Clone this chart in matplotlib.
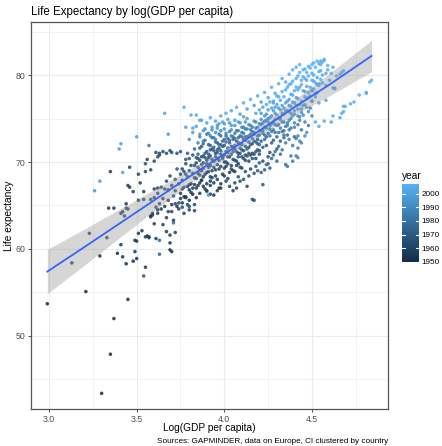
import numpy as np
import matplotlib
matplotlib.use("Agg")
import matplotlib.pyplot as plt
from matplotlib.colors import LinearSegmentedColormap, Normalize
from matplotlib.cm import ScalarMappable

plt.rcParams['font.family'] = ['Liberation Sans', 'DejaVu Sans']

# points: (log10 GDP per capita, life expectancy, year)
low_tail = [
    (2.99, 53.7, 1950), (3.13, 58.4, 1952), (3.21, 55.1, 1950), (3.23, 61.8, 1955),
    (3.29, 59.2, 1953), (3.33, 61.3, 1956), (3.37, 52.0, 1950), (3.35, 47.9, 1951),
    (3.30, 43.4, 1950), (3.45, 54.2, 1951), (3.54, 56.9, 1968), (3.55, 57.9, 1955),
    (3.39, 59.5, 1953), (3.42, 59.1, 1954), (3.41, 60.5, 1955), (3.44, 58.3, 1952),
    (3.48, 58.6, 1953), (3.50, 58.9, 1954), (3.49, 59.7, 1956), (3.63, 59.4, 1972),
    (3.49, 61.0, 1955), (3.50, 60.9, 1956), (3.51, 61.8, 1957), (3.53, 62.1, 1958),
    (3.55, 61.4, 1956), (3.56, 61.5, 1957), (3.57, 61.3, 1955), (3.57, 61.4, 1958),
    (3.61, 61.2, 1957), (3.63, 61.0, 1975), (3.60, 62.9, 1958), (3.65, 62.8, 1959),
    (3.58, 63.7, 1959), (3.59, 63.9, 1960), (3.62, 64.1, 1960), (3.67, 62.0, 1956),
    (3.69, 61.6, 1957), (3.69, 60.7, 1955), (3.69, 59.9, 1954), (3.70, 59.7, 1953),
    (3.71, 63.0, 1978), (3.72, 61.9, 1958), (3.71, 63.3, 1959), (3.67, 63.6, 1959),
    (3.68, 64.3, 1961), (3.70, 64.3, 1960), (3.72, 65.2, 1962), (3.74, 65.3, 1961),
    (3.74, 64.6, 1960), (3.76, 64.8, 1961), (3.77, 64.1, 1959), (3.79, 65.1, 1962),
    (3.80, 64.5, 1960), (3.80, 64.9, 1963), (3.83, 64.4, 1961), (3.83, 65.1, 1962),
]

left_mid = [
    (3.34, 64.7, 1955), (3.37, 64.7, 1956), (3.41, 64.1, 1954), (3.43, 63.8, 1955),
    (3.44, 65.2, 1957), (3.45, 64.6, 1956), (3.44, 64.7, 1958), (3.42, 64.3, 1953),
    (3.51, 65.6, 1957), (3.54, 65.7, 1958), (3.58, 65.7, 1959), (3.58, 63.8, 1956),
    (3.59, 64.1, 1957), (3.62, 64.5, 1958), (3.35, 68.9, 1960), (3.46, 69.4, 1961),
    (3.45, 67.3, 1959), (3.46, 67.1, 1958), (3.48, 66.6, 1957), (3.51, 68.6, 1960),
    (3.52, 67.6, 1959), (3.54, 66.6, 1958), (3.55, 68.9, 1961), (3.58, 69.1, 1962),
    (3.55, 69.8, 1963), (3.56, 70.3, 1962), (3.60, 70.1, 1963), (3.62, 70.6, 1964),
    (3.63, 70.8, 1963), (3.60, 66.9, 1960), (3.62, 67.0, 1961), (3.57, 71.9, 1980),
    (3.61, 71.1, 1962), (3.63, 71.0, 1964), (3.65, 71.2, 1963), (3.67, 71.0, 1965),
    (3.69, 71.3, 1964), (3.70, 71.1, 1966), (3.73, 71.0, 1965), (3.75, 71.2, 1967),
]

left_light = [
    (3.26, 66.7, 1995), (3.29, 67.8, 1998), (3.42, 68.8, 1999), (3.40, 71.5, 1997),
    (3.41, 72.1, 2000), (3.50, 72.9, 1999), (3.66, 75.6, 2002), (3.68, 73.2, 1998),
    (3.77, 76.3, 2004), (3.78, 74.0, 2000), (3.82, 73.9, 2001), (3.81, 75.4, 2003),
    (3.84, 75.4, 2004), (3.87, 74.8, 2002), (3.86, 73.2, 1997), (3.97, 74.4, 2000),
]

right_tail = [
    (4.52, 74.6, 2003), (4.54, 74.1, 2002), (4.57, 74.7, 2004), (4.61, 74.6, 2003),
    (4.62, 75.3, 2005), (4.66, 75.1, 2004), (4.67, 75.6, 2005), (4.68, 75.8, 2006),
    (4.68, 76.4, 2005), (4.69, 76.4, 2006), (4.72, 76.7, 2006), (4.74, 76.9, 2007),
    (4.77, 77.7, 2006), (4.81, 77.9, 2007), (4.81, 78.0, 2006), (4.83, 79.2, 2007),
    (4.84, 79.4, 2007), (4.62, 78.5, 2002), (4.63, 78.4, 2003), (4.66, 80.1, 2005),
    (4.67, 80.3, 2006), (4.68, 80.5, 2007), (4.55, 81.6, 2006), (4.57, 81.8, 2007),
    (4.51, 79.3, 2003), (4.53, 78.9, 2002), (4.50, 78.2, 2000), (4.49, 76.2, 1985),
    (4.50, 77.0, 1999), (4.54, 76.8, 2001), (4.58, 77.1, 2002),
]

lower_scatter = [
    (4.16, 65.7, 1962), (4.17, 65.6, 1963), (4.22, 67.4, 1968), (4.09, 67.8, 1963),
    (4.24, 69.7, 1975), (4.26, 69.3, 1972), (4.35, 69.7, 1980), (4.36, 69.5, 1982),
    (4.38, 70.7, 1984), (4.41, 70.7, 1986), (4.42, 70.5, 1988), (4.39, 70.1, 1983),
    (4.42, 71.6, 1987), (4.43, 72.4, 1990), (4.47, 73.4, 1992), (4.42, 73.0, 1989),
    (4.30, 70.1, 1978), (4.32, 70.9, 1980), (4.19, 69.0, 1970), (4.21, 68.8, 1971),
    (4.05, 66.7, 1960), (4.07, 67.0, 1961), (3.96, 66.7, 1958), (3.98, 67.0, 1959),
    (3.92, 66.3, 1957), (3.90, 66.6, 1994), (3.91, 66.2, 1996), (3.87, 67.9, 1960),
    (3.92, 67.3, 1958), (4.13, 67.2, 1965), (4.28, 70.8, 1976),
    (4.01, 67.8, 1962), (4.03, 67.2, 1961), (4.06, 67.6, 1963), (4.08, 68.3, 1965),
    (4.11, 68.0, 1964), (4.12, 68.9, 1966), (4.14, 68.4, 1965), (4.17, 68.7, 1968),
    (4.18, 69.5, 1970), (4.20, 69.9, 1972), (4.23, 69.1, 1970), (4.25, 69.8, 1973),
    (4.27, 70.4, 1975), (4.29, 71.2, 1978), (4.31, 71.8, 1980), (4.33, 71.4, 1981),
    (4.35, 72.2, 1983), (4.37, 72.6, 1985), (4.39, 71.9, 1984), (4.41, 72.7, 1987),
    (4.44, 72.2, 1988), (4.46, 73.0, 1990),
]

band_left_dark = [
    (3.60, 65.9, 1959), (3.61, 64.8, 1957), (3.62, 66.4, 1960), (3.63, 65.2, 1958),
    (3.64, 67.1, 1962), (3.64, 64.6, 1956), (3.65, 65.8, 1959), (3.66, 66.9, 1961),
    (3.66, 64.9, 1957), (3.67, 67.8, 1963), (3.68, 65.6, 1958), (3.68, 66.8, 1960),
    (3.69, 68.4, 1964), (3.70, 65.1, 1956), (3.70, 67.3, 1961), (3.71, 66.1, 1959),
    (3.72, 68.0, 1963), (3.72, 66.7, 1960), (3.73, 64.9, 1955), (3.73, 69.2, 1965),
    (3.74, 67.5, 1961), (3.75, 68.6, 1963), (3.75, 65.8, 1957), (3.76, 66.9, 1959),
    (3.77, 68.9, 1964), (3.77, 67.1, 1960), (3.78, 69.8, 1966), (3.78, 65.9, 1956),
    (3.79, 68.3, 1962), (3.80, 67.4, 1959), (3.80, 70.4, 1967), (3.81, 66.5, 1956),
    (3.82, 68.7, 1962), (3.83, 69.6, 1964), (3.83, 67.4, 1958), (3.84, 70.5, 1967),
]

band_core = [
    (3.75, 66.4, 1956), (3.76, 67.9, 1960), (3.76, 69.2, 1963), (3.77, 66.0, 1954),
    (3.78, 68.6, 1961), (3.78, 70.3, 1966), (3.79, 67.2, 1958), (3.79, 71.0, 1972),
    (3.80, 69.0, 1962), (3.80, 66.8, 1955), (3.81, 67.5, 1957), (3.81, 69.6, 1963),
    (3.82, 70.8, 1967), (3.82, 66.3, 1953), (3.83, 68.2, 1959), (3.83, 71.5, 1975),
    (3.84, 69.9, 1964), (3.84, 67.0, 1956), (3.85, 68.7, 1960), (3.85, 70.4, 1966),
    (3.85, 72.2, 1988), (3.86, 69.1, 1961), (3.86, 67.6, 1957), (3.87, 70.6, 1965),
    (3.87, 71.8, 1970), (3.88, 68.3, 1958), (3.88, 69.9, 1963), (3.89, 72.5, 1980),
    (3.89, 66.9, 1955), (3.90, 70.2, 1964), (3.90, 71.2, 1968), (3.90, 68.8, 1960),
    (3.91, 69.4, 1961), (3.91, 72.0, 1971), (3.92, 70.7, 1965), (3.92, 67.8, 1956),
    (3.93, 71.5, 1968), (3.93, 69.0, 1960), (3.94, 72.8, 1984), (3.94, 70.1, 1963),
    (3.95, 68.4, 1958), (3.95, 71.0, 1966), (3.95, 73.4, 1992), (3.92, 73.0, 1990),
    (3.94, 66.2, 1953), (3.96, 70.4, 1963), (3.96, 72.2, 1972), (3.97, 69.2, 1960),
    (3.97, 71.6, 1968), (3.98, 70.9, 1965), (3.98, 73.0, 1979), (3.99, 68.6, 1957),
    (3.99, 72.4, 1974), (4.00, 70.0, 1962), (4.00, 71.9, 1970), (4.00, 73.8, 1995),
    (3.97, 67.0, 1955), (4.01, 71.2, 1966), (4.01, 69.5, 1961), (4.02, 72.7, 1976),
    (4.02, 70.6, 1964), (4.03, 73.5, 1985), (4.03, 68.8, 1958), (4.04, 71.8, 1969),
    (4.04, 74.2, 1996), (4.05, 70.3, 1963), (4.05, 72.9, 1977), (4.05, 69.0, 1959),
    (4.06, 71.5, 1967), (4.06, 73.3, 1982), (4.07, 70.1, 1962), (4.07, 72.4, 1973),
    (4.08, 74.6, 1997), (4.08, 71.0, 1965), (4.09, 73.0, 1978), (4.09, 69.4, 1960),
    (4.10, 72.0, 1970), (4.10, 74.0, 1988), (4.10, 70.6, 1964), (4.11, 72.6, 1972),
    (4.11, 71.3, 1967), (4.12, 73.8, 1984), (4.12, 70.2, 1963), (4.13, 72.9, 1975),
    (4.13, 75.0, 1999), (4.14, 71.7, 1969), (4.14, 74.3, 1990), (4.15, 73.2, 1978),
    (4.15, 70.8, 1966), (4.15, 69.2, 1961), (4.16, 73.5, 1980), (4.16, 72.1, 1971),
    (4.17, 74.7, 1992), (4.17, 70.9, 1965), (4.18, 73.9, 1985), (4.18, 75.6, 2001),
    (4.19, 72.6, 1974), (4.19, 71.4, 1968), (4.20, 74.4, 1989), (4.20, 73.1, 1977),
    (4.20, 76.0, 2002), (4.21, 72.4, 1973), (4.21, 74.9, 1993), (4.22, 73.6, 1981),
    (4.22, 71.7, 1970), (4.23, 75.3, 1996), (4.23, 74.0, 1986), (4.24, 72.9, 1976),
    (4.24, 76.6, 2003), (4.25, 74.6, 1990), (4.25, 73.3, 1979), (4.25, 70.6, 1966),
    (4.26, 75.1, 1994), (4.26, 73.8, 1983), (4.27, 76.2, 2000), (4.27, 72.2, 1972),
    (4.28, 74.6, 1988), (4.28, 77.0, 2004), (4.29, 73.4, 1980), (4.29, 75.6, 1997),
    (4.30, 74.2, 1986), (4.30, 76.6, 2001), (4.30, 71.5, 1969), (4.31, 75.0, 1991),
    (4.31, 77.5, 2003), (4.32, 73.9, 1984), (4.32, 76.0, 1996), (4.33, 74.6, 1987),
    (4.33, 78.1, 2005), (4.34, 75.5, 1993), (4.34, 72.8, 1977), (4.35, 76.8, 1999),
    (4.35, 74.1, 1985), (4.36, 75.9, 1995), (4.36, 78.6, 2005), (4.37, 77.2, 2000),
    (4.37, 74.8, 1989), (4.38, 76.4, 1997), (4.38, 79.0, 2006), (4.39, 75.3, 1992),
    (4.39, 77.7, 2002), (4.40, 76.8, 1998), (4.40, 74.0, 1986), (4.41, 77.4, 2001),
    (4.41, 79.6, 2006), (4.42, 76.1, 1996), (4.42, 78.3, 2003), (4.43, 75.2, 1991),
    (4.43, 80.3, 2007), (4.44, 77.0, 1999), (4.44, 78.9, 2004), (4.45, 76.5, 1997),
    (4.45, 79.8, 2005), (4.46, 78.1, 2002), (4.46, 80.7, 2006), (4.47, 77.3, 1999),
    (4.47, 79.4, 2004), (4.48, 75.8, 1994), (4.48, 81.0, 2007), (4.49, 78.6, 2003),
    (4.50, 80.2, 2005), (4.50, 77.0, 1998), (4.51, 81.4, 2007), (4.52, 79.1, 2004),
    (4.53, 78.0, 2001), (4.53, 81.6, 2006), (4.54, 80.4, 2005), (4.55, 79.5, 2003),
    (4.55, 81.2, 2007), (4.56, 80.0, 2004), (4.57, 81.7, 2007), (4.58, 78.8, 2002),
    (4.59, 80.6, 2005), (4.60, 79.4, 2003), (4.62, 80.9, 2006), (4.63, 78.5, 2001),
    (4.64, 79.9, 2004),
]

band_dense_left = [
    (3.84, 68.1, 1959), (3.85, 69.4, 1963), (3.85, 67.3, 1956), (3.86, 70.2, 1966),
    (3.86, 68.5, 1960), (3.87, 69.0, 1962), (3.87, 67.9, 1958), (3.88, 70.7, 1968),
    (3.88, 69.3, 1961), (3.89, 68.6, 1959), (3.89, 71.0, 1970), (3.90, 69.8, 1964),
    (3.90, 67.5, 1957), (3.91, 70.5, 1966), (3.91, 68.9, 1961), (3.92, 69.6, 1963),
    (3.92, 71.4, 1972), (3.93, 70.3, 1965), (3.93, 68.2, 1959), (3.94, 69.4, 1962),
    (3.94, 71.7, 1973), (3.95, 70.6, 1967), (3.95, 69.1, 1961), (3.96, 71.4, 1970),
    (3.96, 69.7, 1963), (3.97, 70.2, 1964), (3.97, 72.0, 1975), (3.98, 69.5, 1962),
    (3.98, 71.3, 1969), (3.99, 70.4, 1966), (3.99, 71.8, 1972), (4.00, 69.3, 1961),
    (4.00, 70.8, 1967), (4.01, 72.3, 1976), (4.01, 70.0, 1964), (4.02, 71.1, 1968),
    (4.02, 69.8, 1963), (4.03, 70.6, 1966), (4.03, 72.5, 1977), (4.04, 70.9, 1967),
    (4.04, 69.2, 1960), (4.05, 71.7, 1971), (4.05, 72.6, 1979), (4.06, 70.2, 1964),
    (4.06, 71.9, 1973), (4.07, 71.2, 1969), (4.07, 69.6, 1962), (4.08, 72.8, 1978),
    (4.08, 70.6, 1966), (4.09, 72.1, 1974), (4.09, 71.0, 1968), (4.10, 71.4, 1970),
    (4.10, 72.9, 1980), (4.11, 70.4, 1965), (4.11, 73.3, 1982), (4.12, 71.8, 1972),
    (4.12, 72.9, 1978), (4.13, 70.7, 1966), (4.13, 73.8, 1985), (4.14, 72.3, 1975),
    (4.14, 71.0, 1968), (4.15, 73.7, 1983), (4.15, 72.0, 1973), (4.16, 70.4, 1964),
    (4.16, 74.0, 1986), (4.17, 72.4, 1976), (4.17, 73.2, 1980), (4.18, 71.2, 1969),
    (4.18, 74.6, 1990), (4.19, 73.0, 1979), (4.19, 72.1, 1973), (4.20, 73.6, 1983),
    (4.20, 70.9, 1967),
    (3.86, 72.9, 1987), (3.88, 72.4, 1984), (3.89, 73.8, 1993), (3.91, 73.3, 1989),
    (3.93, 73.7, 1991), (3.95, 72.6, 1986), (3.96, 74.2, 1995), (3.98, 73.6, 1990),
    (4.00, 74.4, 1997), (4.01, 73.3, 1988), (4.03, 74.5, 1996), (4.04, 73.7, 1991),
    (4.06, 74.2, 1994), (4.08, 73.6, 1989), (4.09, 74.5, 1996), (4.11, 75.2, 1999),
    (4.12, 74.6, 1995),
]

band_dense_right = [
    (4.21, 74.3, 1988), (4.21, 75.6, 1997), (4.22, 73.3, 1982), (4.22, 76.3, 2001),
    (4.23, 74.7, 1990), (4.23, 72.6, 1977), (4.24, 75.5, 1996), (4.24, 73.9, 1985),
    (4.25, 76.0, 1999), (4.25, 75.0, 1993), (4.26, 74.2, 1987), (4.26, 76.9, 2003),
    (4.27, 75.3, 1994), (4.27, 73.5, 1983), (4.28, 75.9, 1998), (4.28, 76.8, 2002),
    (4.29, 74.3, 1986), (4.29, 76.3, 2000), (4.30, 75.4, 1995), (4.30, 77.6, 2004),
    (4.31, 76.2, 1998), (4.31, 73.4, 1981), (4.32, 77.1, 2002), (4.32, 74.9, 1990),
    (4.33, 76.5, 1999), (4.33, 75.6, 1994), (4.34, 77.5, 2003), (4.34, 74.6, 1988),
    (4.35, 75.9, 1996), (4.35, 78.3, 2005), (4.36, 77.0, 2000), (4.36, 74.2, 1986),
    (4.37, 76.5, 1998), (4.37, 78.9, 2006), (4.38, 77.8, 2002), (4.38, 75.6, 1993),
    (4.39, 76.9, 1999), (4.39, 79.3, 2006), (4.40, 78.2, 2003), (4.40, 75.9, 1995),
    (4.41, 76.5, 1997), (4.41, 78.6, 2004), (4.42, 77.3, 2000), (4.42, 79.9, 2006),
    (4.43, 76.6, 1998), (4.43, 78.6, 2003), (4.44, 79.4, 2005), (4.44, 75.7, 1994),
    (4.45, 78.2, 2002), (4.45, 80.6, 2007), (4.46, 77.5, 2000), (4.46, 79.6, 2005),
    (4.47, 78.7, 2003), (4.47, 80.3, 2006), (4.48, 78.0, 2001), (4.48, 79.9, 2005),
    (4.49, 80.8, 2007), (4.49, 77.6, 1999), (4.50, 79.4, 2004), (4.50, 81.2, 2007),
    (4.51, 78.4, 2002), (4.51, 80.0, 2005), (4.52, 80.9, 2006), (4.52, 77.9, 2000),
    (4.53, 79.7, 2004), (4.54, 81.3, 2007), (4.54, 79.0, 2003), (4.55, 80.5, 2005),
    (4.56, 81.5, 2007), (4.56, 79.1, 2003), (4.58, 80.2, 2005), (4.59, 81.1, 2006),
    (4.61, 80.2, 2005), (4.47, 76.3, 1996), (4.45, 75.4, 1992), (4.43, 74.8, 1989),
    (4.40, 74.5, 1988), (4.37, 73.7, 1984), (4.34, 73.1, 1980),
]

band_upper = [
    (3.80, 72.6, 1993), (3.82, 73.4, 1997), (3.84, 74.1, 1999), (3.86, 74.8, 2002),
    (3.88, 73.6, 1995), (3.90, 74.5, 2000), (3.92, 75.1, 2003), (3.93, 74.0, 1998),
    (3.95, 74.7, 2001), (3.96, 73.9, 1996), (3.98, 75.3, 2004), (3.99, 74.6, 1999),
    (4.01, 75.6, 2005), (4.02, 74.9, 2000), (4.04, 75.9, 2003), (4.06, 74.8, 1997),
    (4.07, 76.3, 2005), (4.09, 75.5, 1999), (4.11, 76.8, 2004), (4.13, 76.1, 2001),
    (4.15, 77.2, 2006), (4.17, 76.5, 1998), (4.19, 77.6, 2004), (4.21, 76.9, 2000),
    (4.23, 78.0, 2005), (4.25, 77.4, 2002), (4.27, 78.6, 2006), (4.29, 77.9, 2003),
    (4.31, 79.0, 2005), (4.33, 79.6, 2007), (4.35, 79.2, 2004), (4.37, 80.1, 2006),
    (4.39, 80.6, 2007), (4.41, 80.9, 2006), (4.43, 81.2, 2007),
]

band_middle = [
    (3.85, 70.9, 1971), (3.86, 71.6, 1974), (3.87, 69.7, 1966), (3.88, 72.1, 1977),
    (3.89, 70.5, 1969), (3.90, 73.2, 1983), (3.91, 70.9, 1970), (3.92, 71.9, 1975),
    (3.93, 72.8, 1981), (3.94, 71.3, 1972), (3.95, 72.3, 1978), (3.96, 71.1, 1971),
    (3.97, 73.2, 1982), (3.98, 72.0, 1976), (3.99, 70.6, 1968), (4.00, 72.6, 1980),
    (4.01, 73.0, 1979), (4.02, 71.6, 1973), (4.03, 72.2, 1975), (4.04, 73.0, 1983),
    (4.05, 71.2, 1971), (4.06, 72.7, 1978), (4.07, 73.6, 1981), (4.08, 72.2, 1974),
    (4.09, 71.6, 1972), (4.10, 73.4, 1983), (4.11, 74.0, 1986), (4.12, 72.5, 1976),
    (4.13, 71.5, 1971), (4.14, 73.0, 1980), (4.15, 74.2, 1987), (4.16, 72.7, 1977),
    (4.17, 73.4, 1982), (4.18, 72.3, 1975), (4.19, 74.0, 1986), (4.20, 72.0, 1974),
    (4.21, 73.6, 1982), (4.22, 74.5, 1988), (4.23, 73.1, 1980), (4.24, 74.8, 1990),
    (4.26, 73.0, 1981), (4.27, 74.4, 1987), (4.28, 73.7, 1984), (4.29, 74.9, 1991),
    (4.31, 74.3, 1987), (4.32, 75.1, 1992), (4.33, 73.5, 1983), (4.34, 76.2, 1996),
    (4.36, 74.5, 1988), (4.37, 75.8, 1994), (4.38, 75.0, 1990), (4.40, 75.5, 1993),
    (4.42, 75.3, 1992), (4.44, 76.1, 1995), (4.46, 76.6, 1996), (4.48, 77.4, 1999),
    (4.50, 78.2, 2001), (4.52, 77.5, 2000), (4.54, 78.8, 2002),
]

band_lower = [
    (3.76, 65.3, 1954), (3.78, 66.0, 1955), (3.80, 65.6, 1953), (3.82, 67.0, 1957),
    (3.84, 65.9, 1954), (3.86, 66.4, 1955), (3.88, 67.2, 1956), (3.90, 66.7, 1955),
    (3.92, 68.3, 1959), (3.94, 67.6, 1957), (3.96, 68.0, 1958), (3.98, 67.5, 1956),
    (4.00, 68.4, 1959), (4.02, 68.1, 1958), (4.04, 69.6, 1961), (4.06, 68.9, 1960),
    (4.08, 69.8, 1962), (4.10, 69.3, 1961), (4.12, 70.8, 1964), (4.14, 70.1, 1962),
    (4.16, 71.0, 1965), (4.18, 70.4, 1963), (4.20, 71.3, 1966), (4.22, 70.1, 1964),
    (4.24, 71.9, 1970), (4.26, 71.1, 1967), (4.28, 72.5, 1973), (4.30, 72.9, 1975),
    (4.32, 72.4, 1974), (4.34, 73.6, 1980), (4.36, 73.1, 1978), (4.38, 73.9, 1982),
    (4.40, 72.9, 1977), (4.42, 74.3, 1985), (4.44, 73.7, 1982), (4.46, 74.6, 1986),
    (4.48, 74.2, 1985), (4.50, 75.3, 1990),
]

# fitted line and its (clustered) confidence band
fit_x = [2.99, 3.2, 3.4, 3.6, 3.8, 4.0, 4.2, 4.4, 4.6, 4.84]
fit_y = [57.4, 60.2, 62.9, 65.6, 68.3, 70.9, 73.6, 76.3, 78.9, 82.2]
ci_half = [2.55, 2.08, 1.64, 1.21, 0.82, 0.54, 0.56, 0.88, 1.29, 1.80]

x_ticks = [3.0, 3.5, 4.0, 4.5]
y_ticks = [50, 60, 70, 80]
year_ticks = [1950, 1960, 1970, 1980, 1990, 2000]

pts = np.array(low_tail + left_mid + left_light + right_tail + lower_scatter
               + band_left_dark + band_lower + band_core + band_dense_left
               + band_dense_right + band_middle + band_upper)
gdp, life, year = pts[:, 0], pts[:, 1], pts[:, 2]

W, H = 442, 446
cmap = LinearSegmentedColormap.from_list('gg', ['#132B43', '#56B1F7'])
norm = Normalize(year.min(), year.max())

fig = plt.figure(figsize=(W / 100, H / 100), dpi=100)
ax = fig.add_axes([31 / W, 1 - 409 / H, (388 - 31) / W, (409 - 22) / H])

ax.scatter(gdp, life, c=year, cmap=cmap, norm=norm, s=6.5, alpha=0.85,
           linewidths=0, zorder=2)
fx, fy, fh = np.array(fit_x), np.array(fit_y), np.array(ci_half)
ax.fill_between(fx, fy - fh, fy + fh, color='#999999', alpha=0.4, lw=0, zorder=3)
ax.plot(fx, fy, color='#3366FF', lw=1.3, zorder=4)

ax.set_xlim(2.897, 4.934)
ax.set_ylim(41.6, 86.1)
ax.set_xticks(x_ticks)
ax.set_xticklabels([f'{v:.1f}' for v in x_ticks])
ax.set_xticks([3.25, 3.75, 4.25, 4.75], minor=True)
ax.set_yticks(y_ticks)
ax.set_yticks([45, 55, 65, 75, 85], minor=True)
ax.grid(which='major', color='#EBEBEB', lw=0.8)
ax.grid(which='minor', color='#F0F0F0', lw=0.6)
ax.set_axisbelow(True)
ax.tick_params(which='major', length=2.5, width=0.6, color='#333333',
               labelsize=6.3, labelcolor='#4D4D4D', pad=1.5)
ax.tick_params(which='minor', length=0)
for s in ax.spines.values():
    s.set_color('#555555')
    s.set_linewidth(0.9)

fig.text(31 / W, 1 - 12 / H, 'Life Expectancy by log(GDP per capita)',
         fontsize=8.3, va='center', ha='left')
fig.text(209.5 / W, 1 - 428 / H, 'Log(GDP per capita)', fontsize=7.3,
         va='center', ha='center')
fig.text(9 / W, 1 - 215.5 / H, 'Life expectancy', fontsize=7.3, rotation=90,
         va='center', ha='center')
fig.text(388 / W, 1 - 441.5 / H,
         'Sources: GAPMINDER, data on Europe, CI clustered by country',
         fontsize=5.9, va='center', ha='right')

# colour bar legend
cax = fig.add_axes([402 / W, 1 - 262 / H, 17 / W, 78 / H])
cb = fig.colorbar(ScalarMappable(norm=norm, cmap=cmap), cax=cax)
cb.outline.set_visible(False)
cb.set_ticks(year_ticks)
cax.tick_params(length=0, labelsize=5.9, pad=2)
for t in year_ticks:
    cax.axhline(t, xmin=0, xmax=0.2, color='white', lw=0.8)
    cax.axhline(t, xmin=0.8, xmax=1, color='white', lw=0.8)
fig.text(402 / W, 1 - 176 / H, 'year', fontsize=7.3, va='center', ha='left')

fig.savefig('out.png', dpi=100)
